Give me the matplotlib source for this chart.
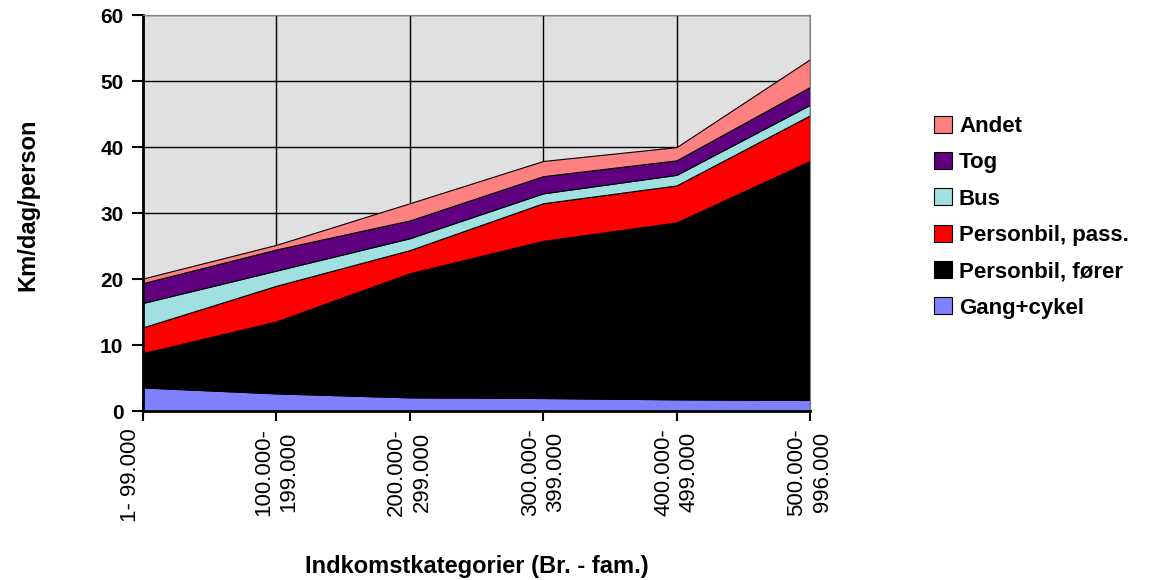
import numpy as np
import matplotlib
matplotlib.use("Agg")
import matplotlib.pyplot as plt

plt.rcParams['font.family'] = ['Liberation Sans', 'DejaVu Sans']

categories = ["1- 99.000\n", "100.000-\n199.000", "200.000-\n299.000",
              "300.000-\n399.000", "400.000-\n499.000", "500.000-\n996.000"]

gang = [3.6, 2.7, 2.1, 2.0, 1.8, 1.7]
forer = [5.2, 10.9, 18.8, 23.8, 26.8, 36.2]
passager = [3.9, 5.4, 3.5, 5.7, 5.6, 6.9]
bus = [3.7, 2.3, 1.8, 1.5, 1.6, 1.6]
tog = [3.0, 3.2, 2.7, 2.6, 2.2, 2.7]
andet = [0.7, 0.7, 2.6, 2.3, 2.0, 4.2]

labels = ["Gang+cykel", "Personbil, fører", "Personbil, pass.", "Bus", "Tog", "Andet"]
colors = ["#8080FF", "#000000", "#FF0000", "#A0E0E0", "#600080", "#FF8080"]

x = np.arange(len(categories))

fig = plt.figure(figsize=(11.62, 5.8), dpi=100)
ax = fig.add_axes([0.123, 0.291, 0.574, 0.683])
ax.set_facecolor("#E0E0E0")

ax.stackplot(x, gang, forer, passager, bus, tog, andet,
             colors=colors, labels=labels, edgecolor="black", linewidth=0.8)

ax.set_xlim(0, 5)
ax.set_ylim(0, 60)
ax.set_yticks(range(0, 61, 10))
ax.set_xticks(x)
ax.set_xticklabels(categories, rotation=90, ha="center", va="top",
                   fontsize=16, multialignment="center", linespacing=1.3)

ax.grid(True, color="black", linewidth=1)
ax.set_axisbelow(True)

for lab in ax.get_yticklabels():
    lab.set_fontweight("bold")
    lab.set_fontsize(15)

ax.tick_params(axis="y", direction="out", length=8, width=1.5, pad=6)
ax.tick_params(axis="x", direction="inout", length=14, width=1.5, pad=5)

ax.spines["left"].set_linewidth(2)
ax.spines["bottom"].set_linewidth(2)
ax.spines["top"].set_color("#808080")
ax.spines["right"].set_color("#808080")

fig.text(28 / 1162, 1 - 205 / 580, "Km/dag/person", rotation=90,
         ha="center", va="center", fontsize=17, fontweight="bold")
fig.text(477 / 1162, 1 - 566 / 580, "Indkomstkategorier (Br. - fam.)",
         ha="center", va="center", fontsize=17, fontweight="bold")

handles, hlabels = ax.get_legend_handles_labels()
fig.legend(handles[::-1], hlabels[::-1], loc="upper left",
           bbox_to_anchor=(0.787, 0.835), frameon=False,
           prop={"weight": "bold", "size": 16},
           handlelength=0.8, handleheight=0.8, handletextpad=0.3,
           labelspacing=0.68)

fig.savefig("out.png", dpi=100)
